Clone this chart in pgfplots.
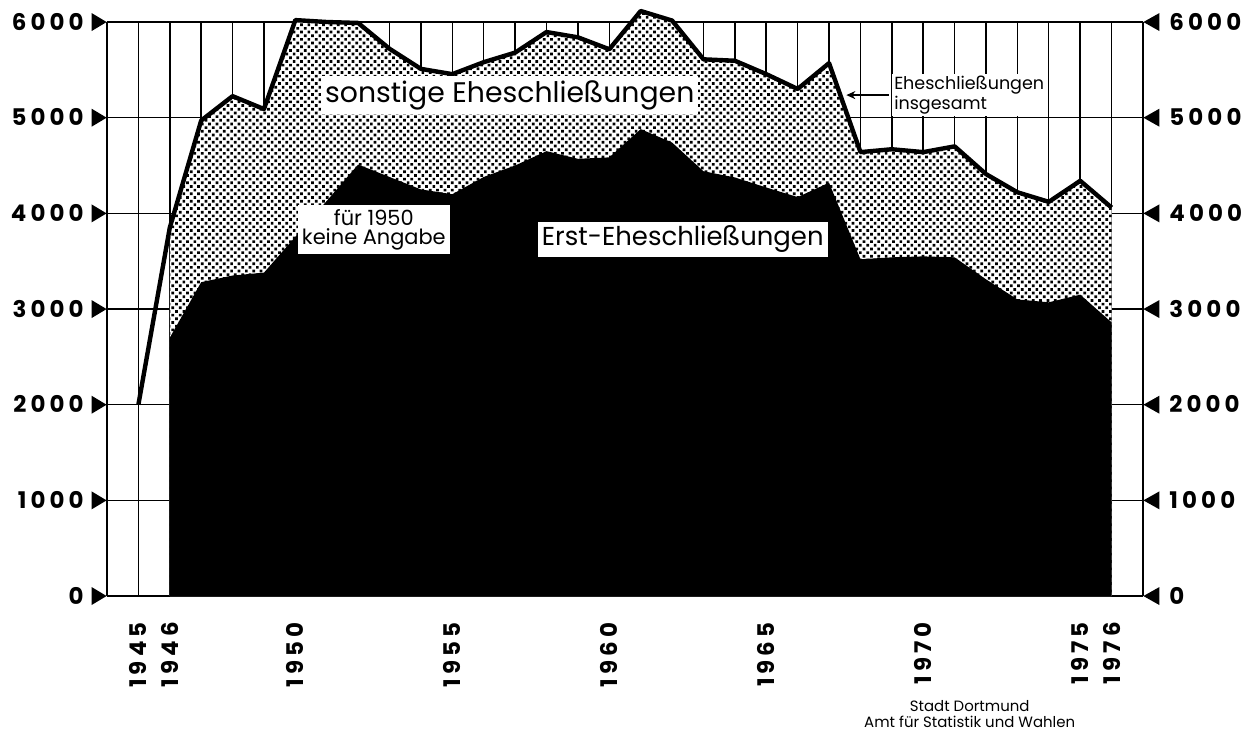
\documentclass[border=0pt]{standalone}
\usepackage{fontspec}
\setmainfont{Poppins}
\newfontfamily\numfont[LetterSpace=18]{Poppins}
\usepackage{pgfplots}
\usepackage{pgfplotstable}
\pgfplotsset{compat=1.18}
\usetikzlibrary{patterns.meta,arrows.meta}
\newcommand\trir{\tikz[baseline={(0,-4bp)}]\fill (0,-4.5bp)--(0,4.5bp)--(7.5bp,0)--cycle;}
\newcommand\tril{\tikz[baseline={(0,-4bp)}]\fill (0,-4.5bp)--(0,4.5bp)--(-8bp,0)--cycle;}

\pgfplotstableread{
year total first
1945 2000 nan
1946 3850 2700
1947 4970 3280
1948 5225 3350
1949 5090 3380
1950 6020 nan
1951 6000 4130
1952 5990 4510
1953 5720 4380
1954 5510 4250
1955 5455 4200
1956 5580 4380
1957 5680 4500
1958 5895 4650
1959 5840 4570
1960 5715 4585
1961 6115 4880
1962 6015 4740
1963 5610 4440
1964 5595 4375
1965 5455 4270
1966 5300 4170
1967 5570 4320
1968 4640 3520
1969 4670 3540
1970 4640 3550
1971 4700 3540
1972 4410 3310
1973 4220 3100
1974 4120 3070
1975 4340 3150
1976 4060 2860
}\datatable

\begin{document}
\begin{tikzpicture}
\begin{axis}[
  name=main,
  width=518bp, height=287bp, scale only axis,
  xmin=1944, xmax=1977, ymin=0, ymax=6000,
  clip=false,
  axis line style={draw=none},
  major tick length=0pt,
  xtick={1945,...,1976},
  xticklabels={1945,1946,{},{},{},1950,{},{},{},{},1955,{},{},{},{},1960,{},{},{},{},1965,{},{},{},{},1970,{},{},{},{},1975,1976},
  extra x ticks={1944,1977},
  extra x tick labels={},
  ytick={0,1000,...,6000},
  grid=major,
  major grid style={black, line width=0.75bp},
  xticklabel style={font=\numfont\bfseries\fontsize{11.5}{12}\selectfont, yshift=-13bp, rotate=90, anchor=east, inner sep=0pt},
  yticklabel={\numfont\bfseries\fontsize{11.5}{12}\selectfont\pgfmathprintnumber[fixed,precision=0,1000 sep={},assume math mode=true]{\tick}\hspace{4bp}\trir},
  yticklabel style={anchor=east, inner sep=0pt},
]
% dotted area: other marriages (between total and first marriages)
\addplot[draw=none, fill=white, restrict x to domain=1946:1976] table[x=year, y=total] {\datatable} \closedcycle;
\addplot[draw=none, pattern={Dots[distance=2.6bp, radius=0.95bp, angle=45]}, pattern color=black, restrict x to domain=1946:1976] table[x=year, y=total] {\datatable} \closedcycle;
% black area: first marriages
\addplot[draw=none, fill=black] table[x=year, y=first] {\datatable} \closedcycle;
% total line
\addplot[black, line width=2.2bp, line join=round] table[x=year, y=total] {\datatable};

\node[fill=white, inner sep=2bp, font=\fontsize{14.2}{15}\selectfont] at (axis cs:1956.83,5235) {sonstige Eheschließungen};
\node[fill=white, inner sep=2bp, font=\fontsize{13}{14}\selectfont] at (axis cs:1962.34,3728) {Erst-Eheschließungen};
\node[fill=white, inner sep=2bp, align=center, font=\fontsize{10.5}{9.5}\selectfont] at (axis cs:1952.5,3832) {für 1950\\keine Angabe};
\node[fill=white, inner sep=1bp, anchor=west, align=left, font=\fontsize{8.8}{8.3}\selectfont] at (axis cs:1969.0,5240) {Eheschließungen\\insgesamt};
\draw[-{Stealth[length=4.5bp,width=4bp]}, line width=1bp] (axis cs:1968.9,5236) -- (axis cs:1967.55,5236);
\node[align=center, font=\fontsize{7.5}{8}\selectfont] at (axis cs:1971.48,-1236) {Stadt Dortmund\\Amt für Statistik und Wahlen};
\coordinate (BL) at (rel axis cs:0,0);
\end{axis}
\begin{axis}[
  width=518bp, height=287bp, scale only axis,
  xmin=1944, xmax=1977, ymin=0, ymax=6000,
  axis y line*=right, hide x axis,
  axis line style={draw=none},
  major tick length=0pt,
  ytick={0,1000,...,6000},
  yticklabel={\tril\hspace{5bp}\numfont\bfseries\fontsize{11.5}{12}\selectfont\pgfmathprintnumber[fixed,precision=0,1000 sep={},assume math mode=true]{\tick}},
  yticklabel style={anchor=west, inner sep=0pt},
]
\addplot[draw=none] coordinates {(1944,0) (1977,6000)};
\end{axis}
\pgfresetboundingbox
\path (BL) ++(-53.5bp,-71bp) rectangle ++(628.5bp,369bp);
\end{tikzpicture}
\end{document}
